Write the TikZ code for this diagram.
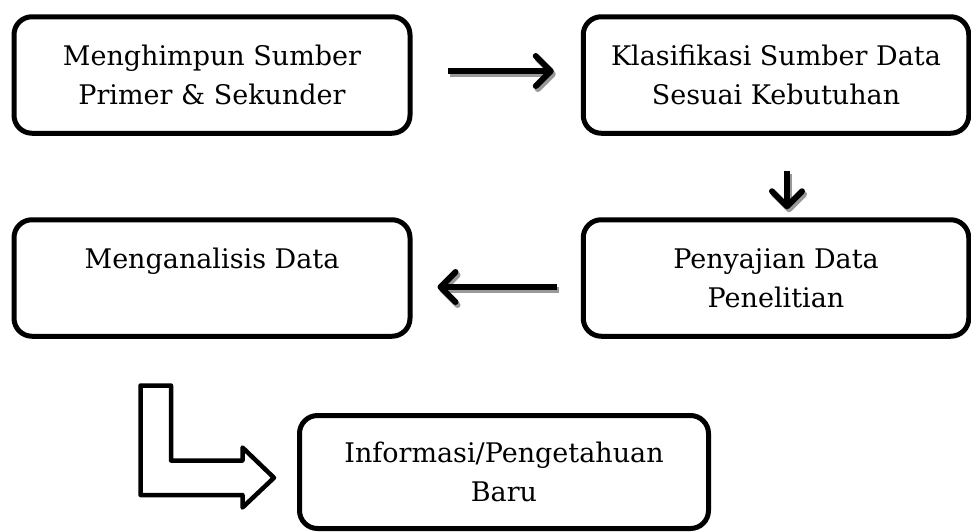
\documentclass[tikz,border=0pt]{standalone}
\usepackage{fontspec}
\setmainfont{DejaVu Serif}
\usetikzlibrary{arrows.meta}

\tikzset{
    stepbox/.style={draw,line width=5pt,rounded corners=18pt,align=center,inner sep=0pt,font=\boxfontsize},
    flowarrow/.style={line width=6pt,-{Straight Barb[length=15pt,width=30pt,line cap=round,line join=round]}},
    flowshadow/.style={flowarrow,draw=black!40,transform canvas={shift={(2pt,-3pt)}}},
}

\begin{document}
\begin{tikzpicture}[x=1pt,y=-1pt]
    \pgfmathsetmacro{\leftwidth}{396}
    \pgfmathsetmacro{\rightwidth}{385.5}
    \pgfmathsetmacro{\topheight}{116.5}
    \pgfmathsetmacro{\midheight}{116.5}
    \providecommand{\boxfontsize}{\fontsize{27pt}{39pt}\selectfont}
    \useasboundingbox (0,0) rectangle (971,531);
    \node[stepbox,minimum width=\leftwidth pt,minimum height=\topheight pt] (gather) at (212,75) {Menghimpun Sumber\\Primer \& Sekunder};
    \node[stepbox,minimum width=\rightwidth pt,minimum height=\topheight pt] (classify) at (776,75) {Klasifikasi Sumber Data\\Sesuai Kebutuhan};
    \node[stepbox,minimum width=\leftwidth pt,minimum height=\midheight pt] (analyse) at (212,278) {Menganalisis Data\\\mbox{}};
    \node[stepbox,minimum width=\rightwidth pt,minimum height=\midheight pt] (present) at (776,278) {Penyajian Data\\Penelitian};
    \node[stepbox,minimum width=409pt,minimum height=113pt] (result) at (504,472) {Informasi/Pengetahuan\\Baru};
    % shadows first, then the arrows
    \draw[flowshadow,shorten <=35pt,shorten >=27pt] ([yshift=4pt]gather.east) -- ([yshift=4pt]classify.west);
    \draw[flowshadow,shorten <=35pt,shorten >=8pt] ([xshift=11pt]classify.south) -- ([xshift=11pt]present.north);
    \draw[flowshadow,shorten <=24pt,shorten >=25pt] ([yshift=-9pt]present.west) -- ([yshift=-9pt]analyse.east);
    \draw[flowarrow,shorten <=35pt,shorten >=27pt] ([yshift=4pt]gather.east) -- ([yshift=4pt]classify.west);
    \draw[flowarrow,shorten <=35pt,shorten >=8pt] ([xshift=11pt]classify.south) -- ([xshift=11pt]present.north);
    \draw[flowarrow,shorten <=24pt,shorten >=25pt] ([yshift=-9pt]present.west) -- ([yshift=-9pt]analyse.east);
    \draw[line width=4.5pt,line join=round,fill=white] (140.5,385.5) -- (171,385.5) -- (171,460.5) -- (242.5,460.5) -- (242.5,447.5) -- (274,477.75) -- (242.5,507.5) -- (242.5,495) -- (140.5,495) -- cycle;
\end{tikzpicture}
\end{document}
